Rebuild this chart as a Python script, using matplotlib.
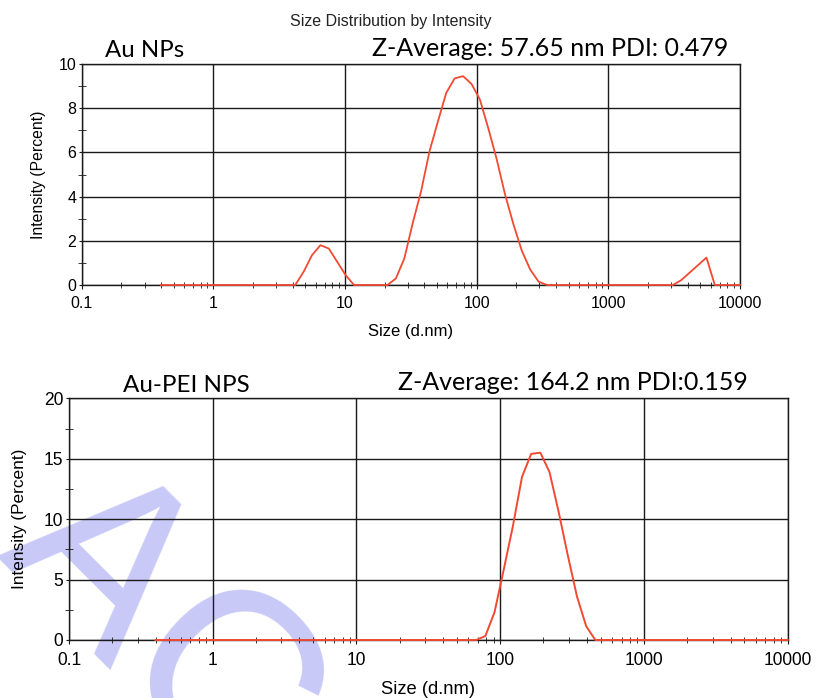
import matplotlib
matplotlib.use("Agg")
import matplotlib.pyplot as plt
from matplotlib.ticker import FixedLocator, FixedFormatter, LogLocator, NullFormatter

# size bins (d.nm)
sizes = [0.4, 0.4632, 0.5365, 0.6213, 0.7195, 0.8332, 0.9649, 1.117, 1.294, 1.499,
         1.736, 2.010, 2.328, 2.696, 3.122, 3.615, 4.187, 4.849, 5.615, 6.503,
         7.531, 8.721, 10.10, 11.70, 13.54, 15.69, 18.17, 21.04, 24.36, 28.21,
         32.67, 37.84, 43.82, 50.75, 58.77, 68.06, 78.82, 91.28, 105.7, 122.4,
         141.8, 164.2, 190.1, 220.2, 255.0, 295.3, 342.0, 396.1, 458.7, 531.2,
         615.1, 712.4, 825.0, 955.4, 1106, 1281, 1484, 1718, 1990, 2305,
         2669, 3091, 3580, 4145, 4801, 5560, 6439, 7456, 8635, 10000]

# intensity (%) Au NPs
au_np = [0, 0, 0, 0, 0, 0, 0, 0, 0, 0,
         0, 0, 0, 0, 0, 0, 0, 0.6, 1.35, 1.8,
         1.65, 1.05, 0.45, 0, 0, 0, 0, 0, 0.3, 1.2,
         2.8, 4.25, 6.05, 7.4, 8.7, 9.35, 9.45, 9.1, 8.4, 7.1,
         5.7, 4.1, 2.75, 1.55, 0.7, 0.15, 0, 0, 0, 0,
         0, 0, 0, 0, 0, 0, 0, 0, 0, 0,
         0, 0, 0.22, 0.56, 0.9, 1.24, 0, 0, 0, 0]

# intensity (%) Au-PEI NPs
au_pei = [0, 0, 0, 0, 0, 0, 0, 0, 0, 0,
          0, 0, 0, 0, 0, 0, 0, 0, 0, 0,
          0, 0, 0, 0, 0, 0, 0, 0, 0, 0,
          0, 0, 0, 0, 0, 0, 0.33, 2.3, 5.8, 9.4,
          13.5, 15.4, 15.5, 13.9, 10.6, 7.0, 3.6, 1.15, 0, 0,
          0, 0, 0, 0, 0, 0, 0, 0, 0, 0,
          0, 0, 0, 0, 0, 0, 0, 0, 0, 0]

x_ticks = [0.1, 1, 10, 100, 1000, 10000]
x_labels = ["0.1", "1", "10", "100", "1000", "10000"]

W, H = 817, 698
fig = plt.figure(figsize=(W / 100, H / 100), dpi=100)
plt.rcParams['font.family'] = ['Liberation Sans', 'DejaVu Sans']

# watermark behind everything
fig.text(-5 / W, 1 - 556 / H, "ACCEPTED MANUSCRIPT", rotation=-45,
         rotation_mode='anchor', ha='left', va='baseline', fontsize=175,
         color='#c9c9f8', zorder=-1)

red = '#f04a32'


def setup(ax, ymax, ystep, scale):
    ax.set_facecolor('none')
    ax.set_xscale('log')
    ax.set_xlim(0.1, 10000)
    ax.set_ylim(0, ymax)
    ax.xaxis.set_major_locator(FixedLocator(x_ticks))
    ax.xaxis.set_major_formatter(FixedFormatter(x_labels))
    ax.xaxis.set_minor_locator(LogLocator(base=10, subs=range(2, 10)))
    ax.xaxis.set_minor_formatter(NullFormatter())
    ax.set_yticks(range(0, ymax + 1, ystep))
    ax.set_yticks([v + ystep / 2 for v in range(0, ymax, ystep)], minor=True)
    ax.grid(True, which='major', color='#1a1a1a', linewidth=1.0)
    for s in ax.spines.values():
        s.set_color('#1a1a1a')
        s.set_linewidth(1.0)
    ax.tick_params(axis='x', which='major', direction='out', length=3,
                   labelsize=11.5 * scale, pad=5 * scale, color='#1a1a1a')
    ax.tick_params(axis='x', which='minor', direction='inout', length=4,
                   color='#1a1a1a')
    ax.tick_params(axis='y', which='major', direction='out', length=2.5,
                   labelsize=11.5 * scale, pad=1.5 * scale, color='#1a1a1a')
    ax.tick_params(axis='y', which='minor', direction='inout', length=6,
                   color='#1a1a1a')
    ax.set_axisbelow(True)


# top panel
ax1 = fig.add_axes([81.7 / W, 1 - 285 / H, (740 - 81.7) / W, (285 - 64) / H])
setup(ax1, 10, 2, 1.0)
ax1.plot(sizes, au_np, color=red, linewidth=1.3, clip_on=False, zorder=3)
ax1.set_xlabel("Size (d.nm)", fontsize=12)
ax1.xaxis.set_label_coords(0.5, -0.21)
ax1.xaxis.label.set_va('center')
ax1.set_ylabel("Intensity (Percent)", fontsize=11.3)
ax1.yaxis.set_label_coords(-0.0656, 0.5)
ax1.yaxis.label.set_va('center')

# bottom panel
ax2 = fig.add_axes([69 / W, 1 - 640 / H, (787.7 - 69) / W, (640 - 398.3) / H])
setup(ax2, 20, 5, 1.1)
ax2.plot(sizes, au_pei, color=red, linewidth=1.4, clip_on=False, zorder=3)
ax2.set_xlabel("Size (d.nm)", fontsize=13.2)
ax2.xaxis.set_label_coords(0.5, -0.205)
ax2.xaxis.label.set_va('center')
ax2.set_ylabel("Intensity (Percent)", fontsize=12.4)
ax2.yaxis.set_label_coords(-0.0689, 0.5)
ax2.yaxis.label.set_va('center')

fig.text(391 / W, 1 - 26 / H, "Size Distribution by Intensity", ha='center',
         va='baseline', fontsize=11.5, color='#222222')

# annotations in a Calibri-like font
ann = dict(ha='left', va='baseline', family=['Lato', 'DejaVu Sans'], color='black')
fig.text(105 / W, 1 - 57 / H, "Au NPs", fontsize=17.3, **ann)
fig.text(372 / W, 1 - 56 / H, "Z-Average: 57.65 nm PDI: 0.479", fontsize=18, **ann)
fig.text(123 / W, 1 - 392 / H, "Au-PEI NPS", fontsize=17.4, **ann)
fig.text(398 / W, 1 - 390 / H, "Z-Average: 164.2 nm PDI:0.159", fontsize=18, **ann)

fig.savefig("out.png", dpi=100)
